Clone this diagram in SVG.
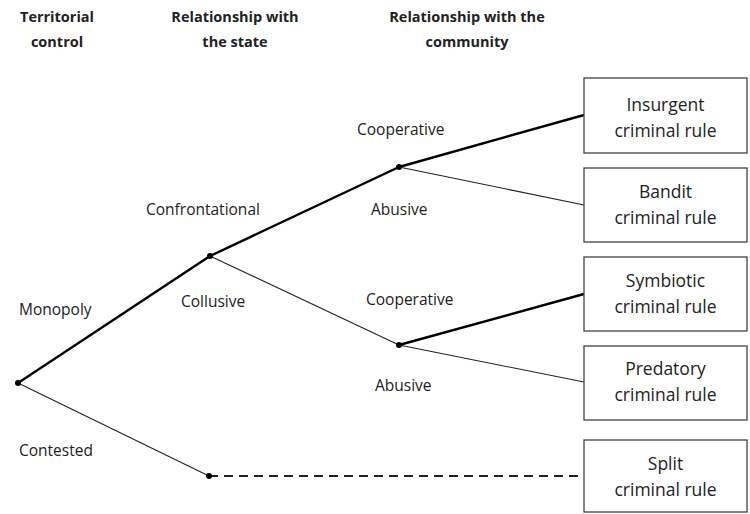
<svg xmlns="http://www.w3.org/2000/svg" width="750" height="514" viewBox="0 0 750 514">
<style>
text{font-family:"Open Sans","Liberation Sans",sans-serif;font-size:15.5px;fill:#222}
.h{font-weight:bold;text-anchor:middle;font-size:14.5px}
.c{text-anchor:middle;font-size:17.5px}
.box{fill:#fff;stroke:#444;stroke-width:1.3}
.thick{stroke:#000;stroke-width:2.4;fill:none}
.thin{stroke:#222;stroke-width:1.1;fill:none}
.dash{stroke:#222;stroke-width:2.2;stroke-dasharray:9,6;fill:none}
.dot{fill:#000}
</style>
<rect width="750" height="514" fill="#fff"/>
<g id="headers">
<text class="h" x="57" y="22">Territorial</text>
<text class="h" x="57" y="47">control</text>
<text class="h" x="235" y="22">Relationship with</text>
<text class="h" x="235" y="47">the state</text>
<text class="h" x="467" y="22">Relationship with the</text>
<text class="h" x="467" y="47">community</text>
</g>
<g id="connectors">
<line class="thick" x1="18" y1="383" x2="210" y2="256"/>
<line class="thin" x1="18" y1="383" x2="209" y2="476"/>
<line class="thick" x1="210" y1="256" x2="399" y2="167"/>
<line class="thin" x1="210" y1="256" x2="399" y2="345"/>
<line class="thick" x1="399" y1="167" x2="584" y2="115"/>
<line class="thin" x1="399" y1="167" x2="584" y2="205"/>
<line class="thick" x1="399" y1="345" x2="584" y2="294"/>
<line class="thin" x1="399" y1="345" x2="584" y2="382"/>
<line class="dash" x1="209" y1="476" x2="584" y2="476"/>
</g>
<g id="points">
<circle class="dot" cx="18" cy="383" r="3"/>
<circle class="dot" cx="210" cy="256" r="3"/>
<circle class="dot" cx="209" cy="476" r="3"/>
<circle class="dot" cx="399" cy="167" r="3"/>
<circle class="dot" cx="399" cy="345" r="3"/>
</g>
<g id="labels">
<text x="357" y="135">Cooperative</text>
<text x="146" y="215">Confrontational</text>
<text x="371" y="215">Abusive</text>
<text x="19" y="315">Monopoly</text>
<text x="181" y="307">Collusive</text>
<text x="366" y="305">Cooperative</text>
<text x="375" y="391">Abusive</text>
<text x="19" y="456">Contested</text>
</g>
<g id="node-insurgent">
<rect class="box" x="584" y="78" width="163" height="75"/>
<text class="c" x="665.5" y="111">Insurgent</text>
<text class="c" x="665.5" y="137">criminal rule</text>
</g>
<g id="node-bandit">
<rect class="box" x="584" y="168" width="163" height="74"/>
<text class="c" x="665.5" y="198">Bandit</text>
<text class="c" x="665.5" y="224">criminal rule</text>
</g>
<g id="node-symbiotic">
<rect class="box" x="584" y="257" width="163" height="74"/>
<text class="c" x="665.5" y="287">Symbiotic</text>
<text class="c" x="665.5" y="313">criminal rule</text>
</g>
<g id="node-predatory">
<rect class="box" x="584" y="346" width="163" height="74"/>
<text class="c" x="665.5" y="375">Predatory</text>
<text class="c" x="665.5" y="401">criminal rule</text>
</g>
<g id="node-split">
<rect class="box" x="584" y="440" width="163" height="72"/>
<text class="c" x="665.5" y="470">Split</text>
<text class="c" x="665.5" y="496">criminal rule</text>
</g>
</svg>
